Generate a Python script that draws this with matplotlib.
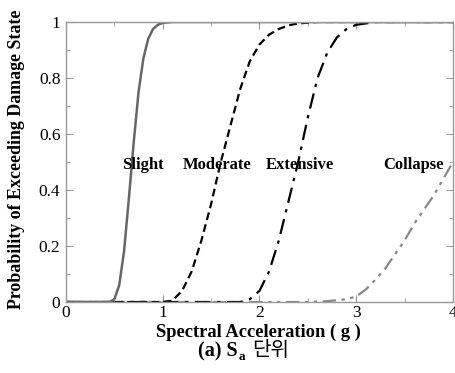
import matplotlib
matplotlib.use("Agg")
import matplotlib.pyplot as plt
from matplotlib.ticker import MultipleLocator

# Data
slight_x = [0.0, 0.45, 0.5, 0.55, 0.6, 0.65, 0.7, 0.75, 0.8, 0.85, 0.9, 0.95, 1.0, 1.1, 4.0]
slight_y = [0.0, 0.0, 0.01, 0.06, 0.18, 0.37, 0.57, 0.75, 0.87, 0.94, 0.975, 0.99, 0.997, 1.0, 1.0]

moderate_x = [0.0, 1.0, 1.1, 1.2, 1.3, 1.4, 1.5, 1.6, 1.7, 1.8, 1.9, 2.0, 2.1, 2.2, 2.3, 2.4, 2.6, 4.0]
moderate_y = [0.0, 0.0, 0.005, 0.04, 0.11, 0.22, 0.35, 0.5, 0.63, 0.76, 0.86, 0.92, 0.955, 0.975, 0.988, 0.995, 1.0, 1.0]

extensive_x = [0.0, 1.8, 1.9, 2.0, 2.1, 2.2, 2.3, 2.4, 2.5, 2.6, 2.7, 2.8, 2.9, 3.0, 3.2, 4.0]
extensive_y = [0.0, 0.0, 0.01, 0.04, 0.11, 0.22, 0.36, 0.5, 0.66, 0.8, 0.89, 0.945, 0.975, 0.99, 1.0, 1.0]

collapse_x = [0.0, 2.5, 2.7, 2.9, 3.0, 3.1, 3.2, 3.3, 3.4, 3.5, 3.6, 3.7, 3.8, 3.9, 4.0]
collapse_y = [0.0, 0.0, 0.003, 0.01, 0.02, 0.045, 0.08, 0.12, 0.17, 0.22, 0.28, 0.33, 0.38, 0.44, 0.5]

labels = ["Slight", "Moderate", "Extensive", "Collapse"]
label_x = [0.79, 1.566, 2.42, 3.59]
label_y = [0.489, 0.489, 0.489, 0.489]

xticks = [0, 1, 2, 3, 4]
yticks = [0, 0.2, 0.4, 0.6, 0.8, 1]
yticklabels = ["0", "0.2", "0.4", "0.6", "0.8", "1"]

serif = ["Liberation Serif", "DejaVu Serif"]

fig = plt.figure(figsize=(4.56, 3.73), dpi=100)
ax = fig.add_axes([0.1447, 0.1903, 0.8487, 0.7507])

ax.plot(collapse_x, collapse_y, color="#888888", lw=1.6, linestyle=(0, (6, 2.5, 1.5, 2.5, 1.5, 2.5)))
ax.plot(extensive_x, extensive_y, color="black", lw=1.6, linestyle=(0, (7, 3, 1.5, 3)))
ax.plot(moderate_x, moderate_y, color="black", lw=1.6, linestyle=(0, (3.5, 2)))
ax.plot(slight_x, slight_y, color="#666666", lw=1.8, linestyle="-")

for t, x, y in zip(labels, label_x, label_y):
    ax.text(x, y, t, ha="center", va="center", fontsize=12, fontweight="bold", family=serif)

ax.set_xlim(0, 4)
ax.set_ylim(0, 1)
ax.set_xticks(xticks)
ax.set_yticks(yticks)
ax.set_yticklabels(yticklabels)
ax.xaxis.set_minor_locator(MultipleLocator(0.5))
ax.yaxis.set_minor_locator(MultipleLocator(0.1))
ax.tick_params(which="both", direction="in", top=True, right=True, color="#999999")
ax.tick_params(which="major", length=5, labelsize=12.5)
ax.tick_params(axis="x", which="major", pad=2)
ax.tick_params(axis="y", which="major", pad=4)
ax.tick_params(which="minor", length=3)
for lab in ax.get_xticklabels() + ax.get_yticklabels():
    lab.set_family(serif)
for s in ax.spines.values():
    s.set_color("#999999")
    s.set_linewidth(1.0)

ax.set_xlabel("Spectral Acceleration ( g )", fontsize=13.3, fontweight="bold", family=serif)
ax.set_ylabel("Probability of Exceeding Damage State", fontsize=12.9, fontweight="bold", family=serif)
ax.xaxis.set_label_coords((258 - 66) / 387, -(324 - 302) / 280)
ax.yaxis.set_label_coords(-(66 - 25) / 387, (302 - 159) / 280)
ax.xaxis.label.set_va("top")

# Caption "(a) S_a 단위"
fig.text(238 / 456, 1 - 356 / 373, "(a) S", ha="right", va="baseline", fontsize=14.5, fontweight="bold", family=serif)
fig.text(239 / 456, 1 - 360 / 373, "a", ha="left", va="baseline", fontsize=9.5, fontweight="bold", family=serif)
fig.text(252 / 456, 1 - 356 / 373, "단위", ha="left", va="baseline", fontsize=14.5, family=["Noto Sans CJK KR", "DejaVu Sans"])

fig.savefig("out.png", dpi=100)
